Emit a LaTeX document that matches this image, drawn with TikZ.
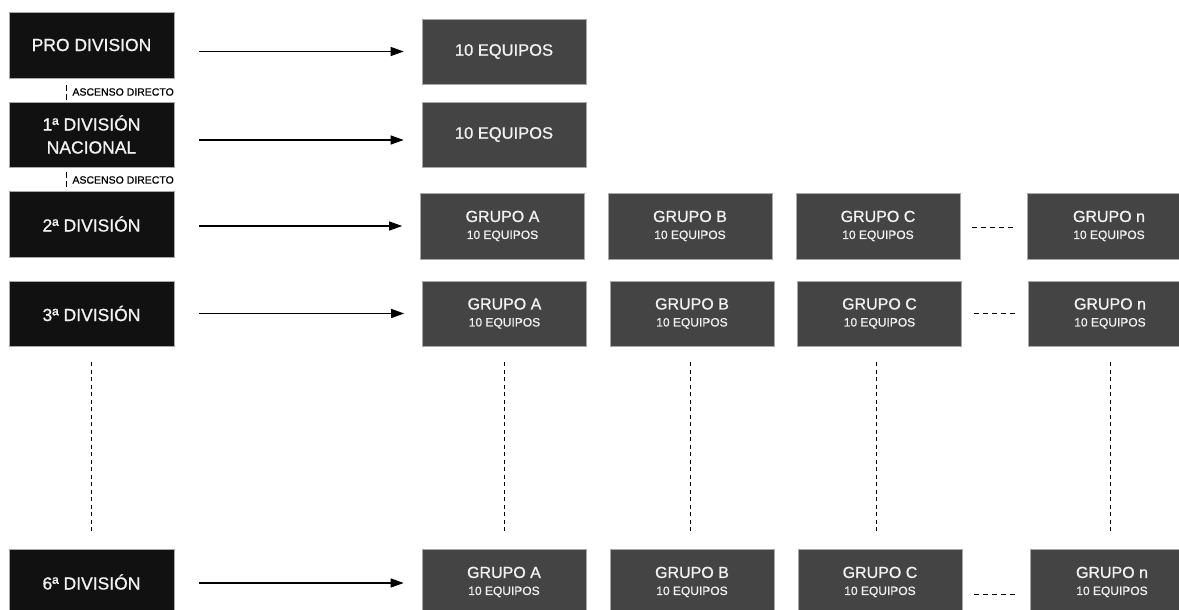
\documentclass[tikz,border=0pt]{standalone}
\usepackage{fontspec}
\setmainfont{Liberation Sans}[FakeBold=0.9]
\usetikzlibrary{arrows.meta}
\definecolor{divfill}{HTML}{111111}
\definecolor{grpfill}{HTML}{444444}
\definecolor{boxedge}{HTML}{A8A8A8}
\definecolor{txtcol}{HTML}{F2F2F2}
\newcommand{\subline}[1]{{\fontsize{12}{17}\selectfont #1}}
\begin{document}
\begin{tikzpicture}[x=1pt,y=-1pt,
  divbox/.style={fill=divfill,draw=boxedge,line width=0.6pt,minimum width=165pt,minimum height=66pt,inner sep=0pt,text=txtcol,font=\fontsize{17.5}{23}\selectfont,align=center},
  teambox/.style={fill=grpfill,draw=boxedge,line width=0.6pt,minimum width=164pt,minimum height=65pt,inner sep=0pt,text=txtcol,font=\fontsize{16.5}{20}\selectfont,align=center},
  grpbox/.style={teambox,minimum height=66pt,font=\fontsize{16}{17}\selectfont},
  arr/.style={-{Triangle[length=13pt,width=9pt]},line width=1.2pt,black},
  vdash/.style={draw=black,line width=0.9pt,dash pattern=on 4pt off 3.5pt},
  ascdash/.style={draw=black,line width=0.8pt,dash pattern=on 6pt off 3pt},
  hdash/.style={draw=black,line width=0.9pt,dash pattern=on 5pt off 4pt},
  asc/.style={font=\fontsize{10.5}{12}\selectfont,inner sep=0pt,anchor=east,text=black}
]
\useasboundingbox (0,0) rectangle (1179,610);
\clip (0,0) rectangle (1179,610);

% left division boxes
\node[divbox] (L1) at (91.5,45) {PRO DIVISION};
\node[divbox,minimum height=65pt] (L2) at (91.5,134.5) {1ª DIVISIÓN\\NACIONAL};
\node[divbox] (L3) at (91.5,224) {2ª DIVISIÓN};
\node[divbox,minimum height=65pt] (L4) at (91.5,313.5) {3ª DIVISIÓN};
\node[divbox] (L6) at (91.5,582) {6ª DIVISIÓN};

% ascenso labels
\node[asc] (a1) at (174,92) {ASCENSO DIRECTO};
\node[asc] (a2) at (174,180) {ASCENSO DIRECTO};
\draw[ascdash] ([xshift=-25.5pt,yshift=-7pt]L1.south) -- ([xshift=-25.5pt,yshift=2pt]L2.north);
\draw[ascdash] ([xshift=-25.5pt,yshift=-5pt]L2.south) -- ([xshift=-25.5pt,yshift=4pt]L3.north);

% single team boxes
\node[teambox] (R1) at (504,51.5) {10 EQUIPOS};
\node[teambox] (R2) at (504,134.5) {10 EQUIPOS};

% 2a division groups
\node[grpbox] (A2) at (502.5,226) {GRUPO A\\\subline{10 EQUIPOS}};
\node[grpbox] (B2) at (690,226) {GRUPO B\\\subline{10 EQUIPOS}};
\node[grpbox] (C2) at (878,226) {GRUPO C\\\subline{10 EQUIPOS}};
\node[grpbox] (N2) at (1109,226) {GRUPO n\\\subline{10 EQUIPOS}};

% 3a division groups
\node[grpbox,minimum height=65pt] (A3) at (504.5,313.5) {GRUPO A\\\subline{10 EQUIPOS}};
\node[grpbox,minimum height=65pt] (B3) at (692,313.5) {GRUPO B\\\subline{10 EQUIPOS}};
\node[grpbox,minimum height=65pt] (C3) at (879.5,313.5) {GRUPO C\\\subline{10 EQUIPOS}};
\node[grpbox,minimum height=65pt] (N3) at (1110,313.5) {GRUPO n\\\subline{10 EQUIPOS}};

% 6a division groups
\node[grpbox] (A6) at (504,582) {GRUPO A\\\subline{10 EQUIPOS}};
\node[grpbox] (B6) at (692,582) {GRUPO B\\\subline{10 EQUIPOS}};
\node[grpbox] (C6) at (880,582) {GRUPO C\\\subline{10 EQUIPOS}};
\node[grpbox] (N6) at (1112,582) {GRUPO n\\\subline{10 EQUIPOS}};

% arrows
\draw[arr] ([xshift=25pt]L1.east |- R1.west) -- ([xshift=-18pt]R1.west);
\draw[arr] ([xshift=25pt,yshift=-5.5pt]L2.east) -- ([xshift=-18pt,yshift=-5.5pt]R2.west);
\draw[arr] ([xshift=25pt]L3.east |- A2.west) -- ([xshift=-18pt]A2.west);
\draw[arr] ([xshift=25pt]L4.east |- A3.west) -- ([xshift=-18pt]A3.west);
\draw[arr] ([xshift=25pt,yshift=-1pt]L6.east) -- ([xshift=-18pt,yshift=-1pt]A6.west);

% horizontal dashes between C and n
\draw[hdash] ([xshift=12pt,yshift=-1pt]C2.east) -- ([xshift=-12pt,yshift=-1pt]N2.west);
\draw[hdash] ([xshift=12pt]C3.east) -- ([xshift=-12pt]N3.west);
\draw[hdash] ([xshift=12pt,yshift=-12pt]C6.east) -- ([xshift=-12pt,yshift=-12pt]N6.west);

% vertical dashed continuation lines
\draw[vdash] ([yshift=-16pt]L4.south) -- ([yshift=14pt]L4.south |- L6.north);
\draw[vdash] ([yshift=-16pt]A3.south) -- ([yshift=14pt]A3.south |- A6.north);
\draw[vdash] ([xshift=-2pt,yshift=-16pt]B3.south) -- ([xshift=-2pt,yshift=14pt]B3.south |- B6.north);
\draw[vdash] ([xshift=-3.5pt,yshift=-16pt]C3.south) -- ([xshift=-3.5pt,yshift=14pt]C3.south |- C6.north);
\draw[vdash] ([yshift=-16pt]N3.south) -- ([yshift=14pt]N3.south |- N6.north);
\end{tikzpicture}
\end{document}
